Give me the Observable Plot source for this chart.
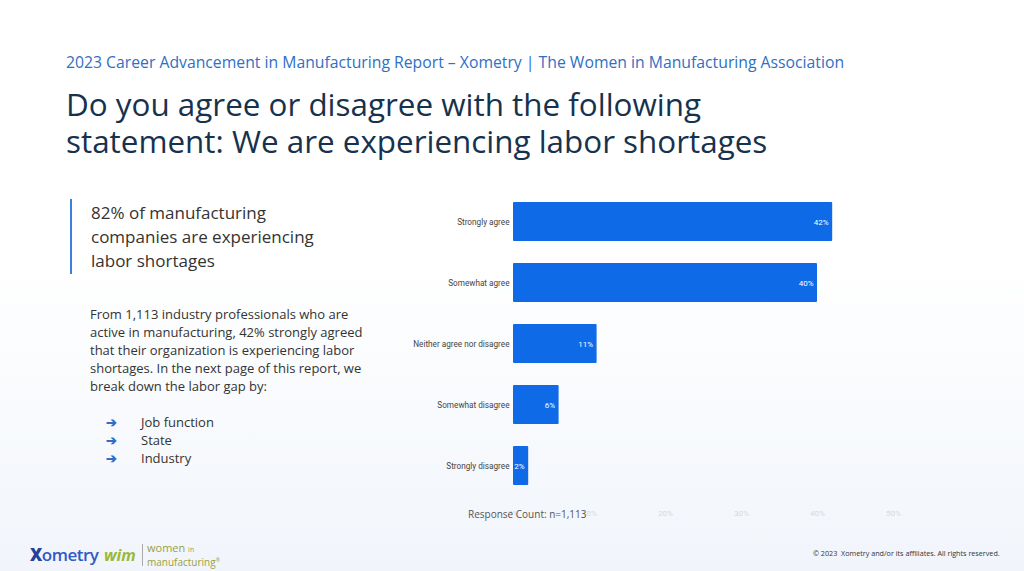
<!DOCTYPE html>
<html>
<head>
<meta charset="utf-8">
<script src="https://cdn.jsdelivr.net/npm/d3@7"></script>
<script src="https://cdn.jsdelivr.net/npm/@observablehq/plot@0.6"></script>
<style>
  html, body { margin: 0; padding: 0; }
  body {
    width: 1024px; height: 571px; overflow: hidden; position: relative;
    font-family: "Open Sans", "Noto Sans", sans-serif;
    background: linear-gradient(to bottom, #ffffff 0px, #ffffff 260px, #f1f5fb 571px);
  }
  .abs { position: absolute; }
  #header { left: 66px; top: 51px; font-size: 15.75px; color: #2f6fc4; white-space: nowrap; }
  #title { left: 66px; top: 85px; font-size: 31.4px; line-height: 37px; color: #17324d; white-space: nowrap; }
  #callout { left: 70px; top: 199px; border-left: 2.5px solid #3d7fdc; padding-left: 19px; font-size: 17px; line-height: 24px; color: #333; height: 75px; }
  #callout div { position: relative; top: 2px; }
  #para { left: 90px; top: 305px; font-size: 13px; line-height: 18px; color: #333; width: 290px; }
  #bullets { left: 106px; top: 413px; font-size: 13px; line-height: 18px; color: #333; }
  #bullets div span.arr { color: #2f6fc4; display: inline-block; width: 35px; font-weight: bold; }
  #chart { left: 400px; top: 180px; }
  #resp { left: 468px; top: 507px; font-size: 10px; color: #555; white-space: nowrap; }
  #copy { left: 813px; top: 548px; font-size: 7.2px; color: #333; white-space: nowrap; }
  #logo1 { left: 30px; top: 543px; font-size: 17px; color: #2e5bc4; font-weight: 600; letter-spacing: -0.5px; }
  #logo1 b { color: #23409a; font-weight: 800; }
  #logo2 { left: 104px; top: 544px; font-size: 16px; color: #9bb83a; font-weight: 700; font-style: italic; }
  #divider { left: 142px; top: 544px; width: 1px; height: 22px; background: #aaa; }
  #logo3 { left: 147px; top: 543px; font-size: 11px; line-height: 10px; color: #9aa040; }
</style>
</head>
<body>
<div id="header" class="abs">2023 Career Advancement in Manufacturing Report – Xometry | The Women in Manufacturing Association</div>
<div id="title" class="abs">Do you agree or disagree with the following<br>statement: We are experiencing labor shortages</div>
<div id="callout" class="abs"><div>82% of manufacturing<br>companies are experiencing<br>labor shortages</div></div>
<div id="para" class="abs">From 1,113 industry professionals who are active in manufacturing, 42% strongly agreed that their organization is experiencing labor shortages. In the next page of this report, we break down the labor gap by:</div>
<div id="bullets" class="abs">
  <div><span class="arr">➔</span>Job function</div>
  <div><span class="arr">➔</span>State</div>
  <div><span class="arr">➔</span>Industry</div>
</div>
<div id="chart" class="abs"></div>
<div id="resp" class="abs">Response Count: n=1,113</div>
<div id="logo1" class="abs"><b>X</b>ometry</div>
<div id="logo2" class="abs">wim</div>
<div id="divider" class="abs"></div>
<div id="logo3" class="abs">women <span style="font-size:7px">in</span><br><span style="font-size:10px">manufacturing<sup style="font-size:5px">®</sup></span></div>
<div id="copy" class="abs">© 2023&nbsp; Xometry and/or its affiliates. All rights reserved.</div>

<script>
const categories = ["Strongly agree", "Somewhat agree", "Neither agree nor disagree", "Somewhat disagree", "Strongly disagree"];
const values = [42, 40, 11, 6, 2];
const xTicks = [0, 10, 20, 30, 40, 50];

const data = categories.map((c, i) => ({category: c, value: values[i]}));

const chart = Plot.plot({
  width: 520,
  height: 346,
  marginLeft: 113,
  marginRight: 27,
  marginTop: 11,
  marginBottom: 30,
  style: {background: "transparent", fontFamily: "Roboto, sans-serif"},
  x: {domain: [0, 50], ticks: xTicks, tickFormat: d => d + "%", label: null},
  y: {domain: categories, paddingInner: 0.36, paddingOuter: 0.18, label: null},
  marks: [
    Plot.axisX({ticks: xTicks, tickFormat: d => d + "%", tickSize: 0, tickPadding: 14, fontSize: 8, color: "#d6d9de", label: null}),
    Plot.axisY({tickSize: 0, tickPadding: 4, fontSize: 8.2, color: "#444", label: null}),
    Plot.barX(data, {x: "value", y: "category", fill: "#0f6ae8", rx: 1}),
    Plot.text(data, {x: "value", y: "category", text: d => d.value + "%", textAnchor: "end", dx: -4, fill: "white", fontSize: 8})
  ]
});
document.getElementById("chart").appendChild(chart);
</script>
</body>
</html>
